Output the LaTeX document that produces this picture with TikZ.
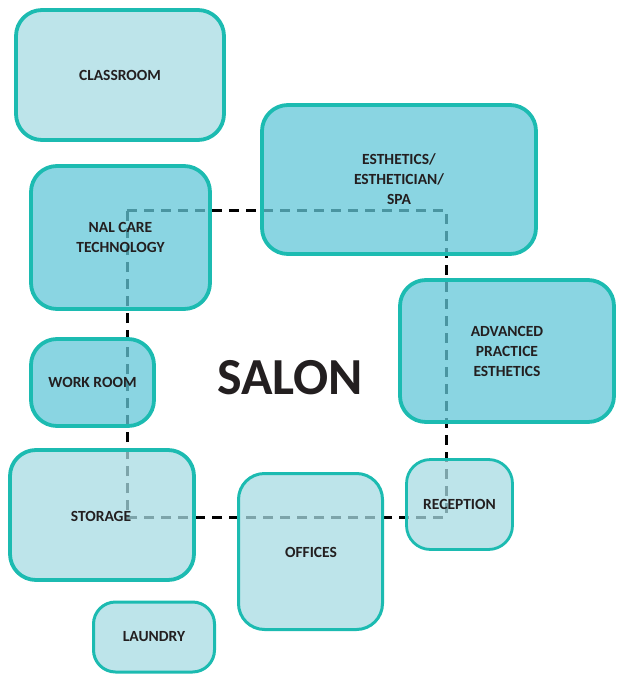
\documentclass[tikz,border=0pt]{standalone}
\usepackage{fontspec}
\setmainfont{Carlito}
\definecolor{teal1}{HTML}{1CBBB1}
\definecolor{lightfill}{RGB}{167,219,227}
\definecolor{darkfill}{RGB}{99,199,216}
\definecolor{txt}{HTML}{231F20}
\tikzset{
  room/.style={draw=teal1, line width=3.8pt, rounded corners=26pt, fill opacity=0.75, text opacity=1,
    font=\bfseries\fontsize{15.5}{20}\selectfont, text=txt, align=center, inner sep=0pt},
  lightroom/.style={room, fill=lightfill},
  darkroom/.style={room, fill=darkfill},
  lbl/.style={font=\bfseries\fontsize{15.5}{20}\selectfont, text=txt},
  loop/.style={draw=black, line width=3pt, dash pattern=on 10pt off 7pt}
}
\begin{document}
\begin{tikzpicture}[x=1pt,y=-1pt]
\useasboundingbox (0,0) rectangle (616,674);
% loop corners
\coordinate (tl) at (127,210);
\coordinate (tr) at (446,210);
\coordinate (br) at (446,517);
\coordinate (bl) at (127,517);
\draw[loop] (tl) -- (tr) -- (br) -- (bl) -- cycle;
% rooms
\node[lightroom, minimum width=208, minimum height=130] (classroom) at (120,75) {CLASSROOM};
\node[darkroom, minimum width=274, minimum height=149] (esth) at (399,179.5) {ESTHETICS/\\ESTHETICIAN/\\SPA};
\node[darkroom, minimum width=179, minimum height=143] (nail) at (120.5,237.5) {NAL CARE\\TECHNOLOGY};
\node[darkroom, minimum width=214, minimum height=142] (adv) at (507,351) {ADVANCED\\PRACTICE\\ESTHETICS};
\node[darkroom, minimum width=123, minimum height=87] (work) at (92.5,382.5) {WORK ROOM};
\node[lightroom, minimum width=184, minimum height=130] (storage) at (102,515) {};
\node[lbl] at (101,516) {STORAGE};
\node[lightroom, line width=3pt, minimum width=144, minimum height=156] (offices) at (310.5,551.5) {};
\node[lbl] at (311,552) {OFFICES};
\node[lightroom, line width=2.8pt, rounded corners=24pt, minimum width=106, minimum height=90] (reception) at (459.5,504.5) {RECEPTION};
\node[lightroom, line width=3pt, rounded corners=22pt, minimum width=121, minimum height=70] (laundry) at (154,637) {LAUNDRY};
\node[font=\bfseries\fontsize{52}{52}\selectfont, text=txt] (salon) at (290,378) {SALON};
\end{tikzpicture}
\end{document}
